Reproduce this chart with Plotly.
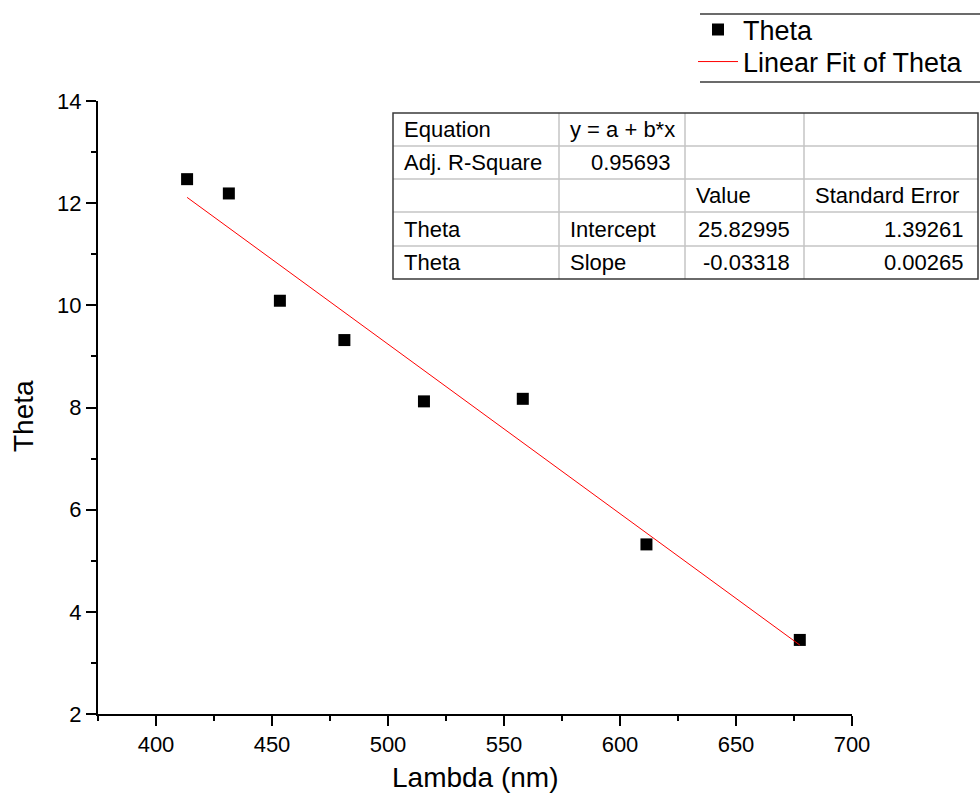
import numpy as np
import plotly.graph_objects as go

# Measured wavelengths (nm) and angle Theta
lambda_nm = [413.4, 431.4, 453.4, 481.2, 515.5, 558.1, 611.4, 677.5]
theta = [12.47, 12.19, 10.09, 9.32, 8.12, 8.17, 5.32, 3.45]

# Linear fit parameters  y = a + b*x
fit_intercept = 25.82995
fit_slope = -0.03318
fit_intercept_err = 1.39261
fit_slope_err = 0.00265
adj_r_square = 0.95693

# Fit-statistics table, column by column
table_col1 = ["Equation", "Adj. R-Square", "", "Theta", "Theta"]
table_col2 = ["y = a + b*x", f"{adj_r_square:.5f}", "", "Intercept", "Slope"]
table_col3 = ["", "", "Value", f"{fit_intercept:.5f}", f"{fit_slope:.5f}"]
table_col4 = ["", "", "Standard Error", f"{fit_intercept_err:.5f}", f"{fit_slope_err:.5f}"]

x_ticks = [400, 450, 500, 550, 600, 650, 700]
y_ticks = [2, 4, 6, 8, 10, 12, 14]

FONT = "Liberation Sans, Arial, sans-serif"

# Figure / plot-area geometry in pixels
FIG_W, FIG_H = 980, 804
M_L, M_R, M_T, M_B = 98, 128, 101, 90
PW = FIG_W - M_L - M_R
PH = FIG_H - M_T - M_B


def px_x(px):
    return (px - M_L) / PW


def px_y(py):
    return (FIG_H - M_B - py) / PH


fit_x = np.array([min(lambda_nm), max(lambda_nm)])
fit_y = fit_intercept + fit_slope * fit_x

fig = go.Figure()
fig.add_trace(go.Scatter(
    x=lambda_nm, y=theta, mode="markers", name="Theta",
    marker=dict(symbol="square", size=12, color="black"),
    legend="legend",
))
fig.add_trace(go.Scatter(
    x=fit_x, y=fit_y, mode="lines", name="Linear Fit of Theta",
    line=dict(color="red", width=1),
    legend="legend2",
))

axis_common = dict(
    showline=True, linecolor="black", linewidth=2,
    ticks="outside", ticklen=10, tickwidth=2, tickcolor="black",
    showgrid=False, zeroline=False, mirror=False,
    tickfont=dict(family=FONT, size=22, color="black"),
    automargin=False,
)

fig.update_xaxes(
    range=[375, 700], tickvals=x_ticks,
    minor=dict(dtick=25, tick0=375, ticklen=5, tickwidth=2, tickcolor="black", ticks="outside"),
    **axis_common,
)
fig.update_yaxes(
    range=[2, 14], tickvals=y_ticks,
    minor=dict(dtick=1, tick0=2, ticklen=5, tickwidth=2, tickcolor="black", ticks="outside"),
    **axis_common,
)

shapes = []
annotations = []

# Axis titles
annotations.append(dict(
    xref="paper", yref="paper", x=px_x(475), y=px_y(777),
    text="Lambda (nm)", showarrow=False, xanchor="center", yanchor="middle",
    font=dict(family=FONT, size=28, color="black"),
))
annotations.append(dict(
    xref="paper", yref="paper", x=px_x(23), y=px_y(416),
    text="Theta", showarrow=False, textangle=-90, xanchor="center", yanchor="middle",
    font=dict(family=FONT, size=28, color="black"),
))

# Fit-statistics table
col_edges = [393, 559, 685, 804, 978]
row_edges = [113, 146, 179, 212, 246, 279]
columns = [table_col1, table_col2, table_col3, table_col4]


def is_number(s):
    try:
        float(s)
        return True
    except ValueError:
        return False


for xe in col_edges[1:-1]:
    shapes.append(dict(type="line", xref="paper", yref="paper",
                       x0=px_x(xe), x1=px_x(xe), y0=px_y(row_edges[0]), y1=px_y(row_edges[-1]),
                       line=dict(color="#c4c4c4", width=1.5)))
for ye in row_edges[1:-1]:
    shapes.append(dict(type="line", xref="paper", yref="paper",
                       x0=px_x(col_edges[0]), x1=px_x(col_edges[-1]), y0=px_y(ye), y1=px_y(ye),
                       line=dict(color="#c4c4c4", width=1.5)))
shapes.append(dict(type="rect", xref="paper", yref="paper",
                   x0=px_x(col_edges[0]), x1=px_x(col_edges[-1]),
                   y0=px_y(row_edges[-1]), y1=px_y(row_edges[0]),
                   line=dict(color="#3a3a3a", width=1.5)))

for ci, col in enumerate(columns):
    for ri, txt in enumerate(col):
        if not txt:
            continue
        yc = (row_edges[ri] + row_edges[ri + 1]) / 2
        if is_number(txt):
            xpos, anchor = px_x(col_edges[ci + 1] - 12), "right"
        else:
            xpos, anchor = px_x(col_edges[ci] + 9), "left"
        annotations.append(dict(
            xref="paper", yref="paper", x=xpos, y=px_y(yc),
            text=txt, showarrow=False, xanchor=anchor, yanchor="middle",
            font=dict(family=FONT, size=22, color="black"),
        ))

# Legend frame: top and bottom rules
for ye in (14, 82):
    shapes.append(dict(type="line", xref="paper", yref="paper",
                       x0=px_x(700), x1=px_x(982), y0=px_y(ye), y1=px_y(ye),
                       line=dict(color="#3a3a3a", width=1.5)))

legend_common = dict(
    xanchor="left", yanchor="middle",
    font=dict(family=FONT, size=27, color="black"),
    bgcolor="rgba(0,0,0,0)", borderwidth=0, itemwidth=40,
)

fig.update_layout(
    width=FIG_W, height=FIG_H, autosize=False,
    margin=dict(l=M_L, r=M_R, t=M_T, b=M_B, pad=0, autoexpand=False),
    paper_bgcolor="white", plot_bgcolor="white",
    font=dict(family=FONT, color="black"),
    showlegend=True,
    legend=dict(x=px_x(693), y=px_y(30), **legend_common),
    legend2=dict(x=px_x(693), y=px_y(62), **legend_common),
    shapes=shapes,
    annotations=annotations,
)

fig.write_html("out.html")
